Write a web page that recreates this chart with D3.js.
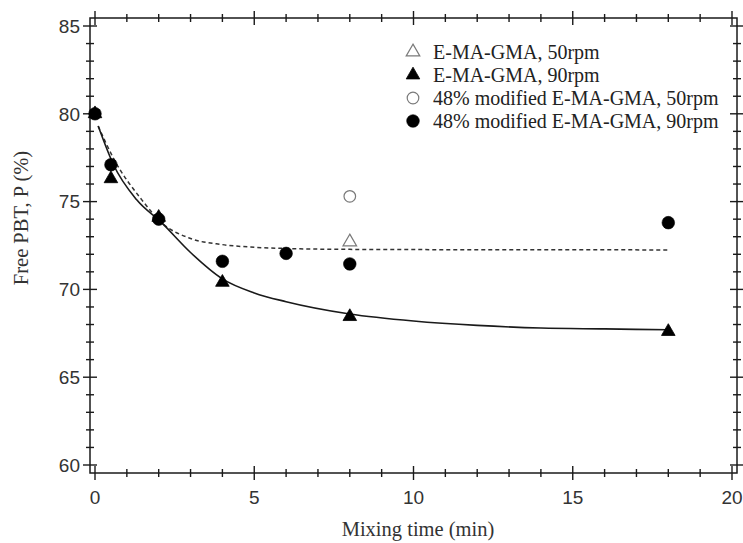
<!DOCTYPE html>
<html>
<head>
<meta charset="utf-8">
<script src="https://cdn.jsdelivr.net/npm/d3@7"></script>
<style>
  html, body { margin: 0; padding: 0; background: #fff; }
  svg { display: block; }
</style>
</head>
<body>
<svg id="chart" width="743" height="543"></svg>
<script>
// Mixing time (min) and free PBT (%) for each series
const triOpenT = [8];
const triOpenP = [72.7];
const triFillT = [0, 0.5, 2, 4, 8, 18];
const triFillP = [80.0, 76.3, 74.1, 70.4, 68.45, 67.6];
const cirOpenT = [8];
const cirOpenP = [75.3];
const cirFillT = [0, 0.5, 2, 4, 6, 8, 18];
const cirFillP = [80.0, 77.1, 74.0, 71.6, 72.05, 71.45, 73.8];

// Fitted decay curves, sampled along the time axis
const fitSolidT = [0.1, 0.58, 1.31, 2.09, 3, 4, 5, 6, 8, 10, 12, 14, 16, 18];
const fitSolidP = [79.3, 77.1, 75.1, 73.8, 72.1, 70.6, 69.8, 69.3, 68.6, 68.2, 67.95, 67.8, 67.75, 67.7];
const fitDashT = [0.1, 0.6, 1.47, 2.09, 3, 4, 5, 6, 8, 12, 18];
const fitDashP = [79.3, 77.4, 75.1, 73.8, 72.9, 72.55, 72.4, 72.33, 72.28, 72.26, 72.25];

const legendLabels = [
  "E-MA-GMA, 50rpm",
  "E-MA-GMA, 90rpm",
  "48% modified E-MA-GMA, 50rpm",
  "48% modified E-MA-GMA, 90rpm"
];
const xTicks = [0, 5, 10, 15, 20];
const yTicks = [60, 65, 70, 75, 80, 85];
const xTitle = "Mixing time (min)";
const yTitle = "Free PBT, P (%)";

const svg = d3.select("#chart");
const frame = { left: 90, right: 737, top: 18, bottom: 473 };
const x = d3.scaleLinear().domain([0, 20]).range([95, 732]);
const y = d3.scaleLinear().domain([60, 85]).range([465, 26]);

const ink = "#1a1a1a";
const grey = "#7a7a7a";
const sans = "'Liberation Sans', Arial, sans-serif";
const serif = "'Liberation Serif', 'Times New Roman', serif";

// Frame
svg.append("rect")
  .attr("x", frame.left).attr("y", frame.top)
  .attr("width", frame.right - frame.left).attr("height", frame.bottom - frame.top)
  .attr("fill", "none").attr("stroke", ink).attr("stroke-width", 1.5);

// Ticks crossing each side of the frame
const xMinor = d3.range(0, 21, 1);
const yMinor = d3.range(60, 86, 1);
const tickG = svg.append("g").attr("stroke", ink).attr("stroke-width", 1.4);
function tickLen(v, step) { return v % step === 0 ? 7 : 4; }
xMinor.forEach(v => {
  const L = tickLen(v, 5);
  [frame.bottom, frame.top].forEach(yy => {
    tickG.append("line").attr("x1", x(v)).attr("x2", x(v))
      .attr("y1", yy - L).attr("y2", yy + L);
  });
});
yMinor.forEach(v => {
  const L = tickLen(v, 5);
  [frame.left, frame.right].forEach(xx => {
    tickG.append("line").attr("y1", y(v)).attr("y2", y(v))
      .attr("x1", xx - L).attr("x2", xx + L);
  });
});

// Tick labels
svg.append("g").selectAll("text").data(xTicks).join("text")
  .attr("x", d => x(d)).attr("y", 504)
  .attr("text-anchor", "middle")
  .attr("font-family", sans).attr("font-size", 19).attr("fill", "#333")
  .text(d => d);
svg.append("g").selectAll("text").data(yTicks).join("text")
  .attr("x", 80).attr("y", d => y(d)).attr("dy", "0.36em")
  .attr("text-anchor", "end")
  .attr("font-family", sans).attr("font-size", 19).attr("fill", "#333")
  .text(d => d);

// Axis titles
svg.append("text")
  .attr("x", 418).attr("y", 536)
  .attr("text-anchor", "middle")
  .attr("font-family", serif).attr("font-size", 20.5).attr("fill", "#333")
  .text(xTitle);
svg.append("text")
  .attr("transform", "translate(28,218) rotate(-90)")
  .attr("text-anchor", "middle")
  .attr("font-family", serif).attr("font-size", 20.5).attr("fill", "#333")
  .text(yTitle);

// Fitted curves
const line = d3.line().x(d => x(d[0])).y(d => y(d[1])).curve(d3.curveMonotoneX);
svg.append("path")
  .datum(d3.zip(fitDashT, fitDashP))
  .attr("d", line).attr("fill", "none")
  .attr("stroke", "#333").attr("stroke-width", 1.5).attr("stroke-dasharray", "4,3");
svg.append("path")
  .datum(d3.zip(fitSolidT, fitSolidP))
  .attr("d", line).attr("fill", "none")
  .attr("stroke", ink).attr("stroke-width", 1.6);

// Markers
const tri = d3.symbol().type(d3.symbolTriangle).size(80);
function triangles(ts, ps, filled) {
  svg.append("g").selectAll("path").data(d3.zip(ts, ps)).join("path")
    .attr("d", tri)
    .attr("transform", d => `translate(${x(d[0])},${y(d[1])})`)
    .attr("fill", filled ? "#000" : "#fff")
    .attr("stroke", filled ? "#000" : grey).attr("stroke-width", filled ? 0.8 : 1.2);
}
function circles(ts, ps, filled) {
  svg.append("g").selectAll("circle").data(d3.zip(ts, ps)).join("circle")
    .attr("cx", d => x(d[0])).attr("cy", d => y(d[1]))
    .attr("r", filled ? 6.3 : 5.8)
    .attr("fill", filled ? "#000" : "#fff")
    .attr("stroke", filled ? "#000" : grey).attr("stroke-width", filled ? 0.6 : 1.2);
}
triangles(triOpenT, triOpenP, false);
triangles(triFillT, triFillP, true);
circles(cirOpenT, cirOpenP, false);
circles(cirFillT, cirFillP, true);

// Legend
const legY = [52, 75, 98, 121];
const lg = svg.append("g");
legendLabels.forEach((lab, i) => {
  const cy = legY[i];
  if (i < 2) {
    lg.append("path").attr("d", tri)
      .attr("transform", `translate(413,${cy})`)
      .attr("fill", i === 1 ? "#000" : "#fff")
      .attr("stroke", i === 1 ? "#000" : grey).attr("stroke-width", i === 1 ? 0.8 : 1.2);
  } else {
    lg.append("circle").attr("cx", 413).attr("cy", cy)
      .attr("r", i === 3 ? 6.3 : 5.8)
      .attr("fill", i === 3 ? "#000" : "#fff")
      .attr("stroke", i === 3 ? "#000" : grey).attr("stroke-width", i === 3 ? 0.6 : 1.2);
  }
  lg.append("text").attr("x", 433).attr("y", cy).attr("dy", "0.35em")
    .attr("font-family", serif).attr("font-size", 20).attr("fill", "#222")
    .text(lab);
});
</script>
</body>
</html>
